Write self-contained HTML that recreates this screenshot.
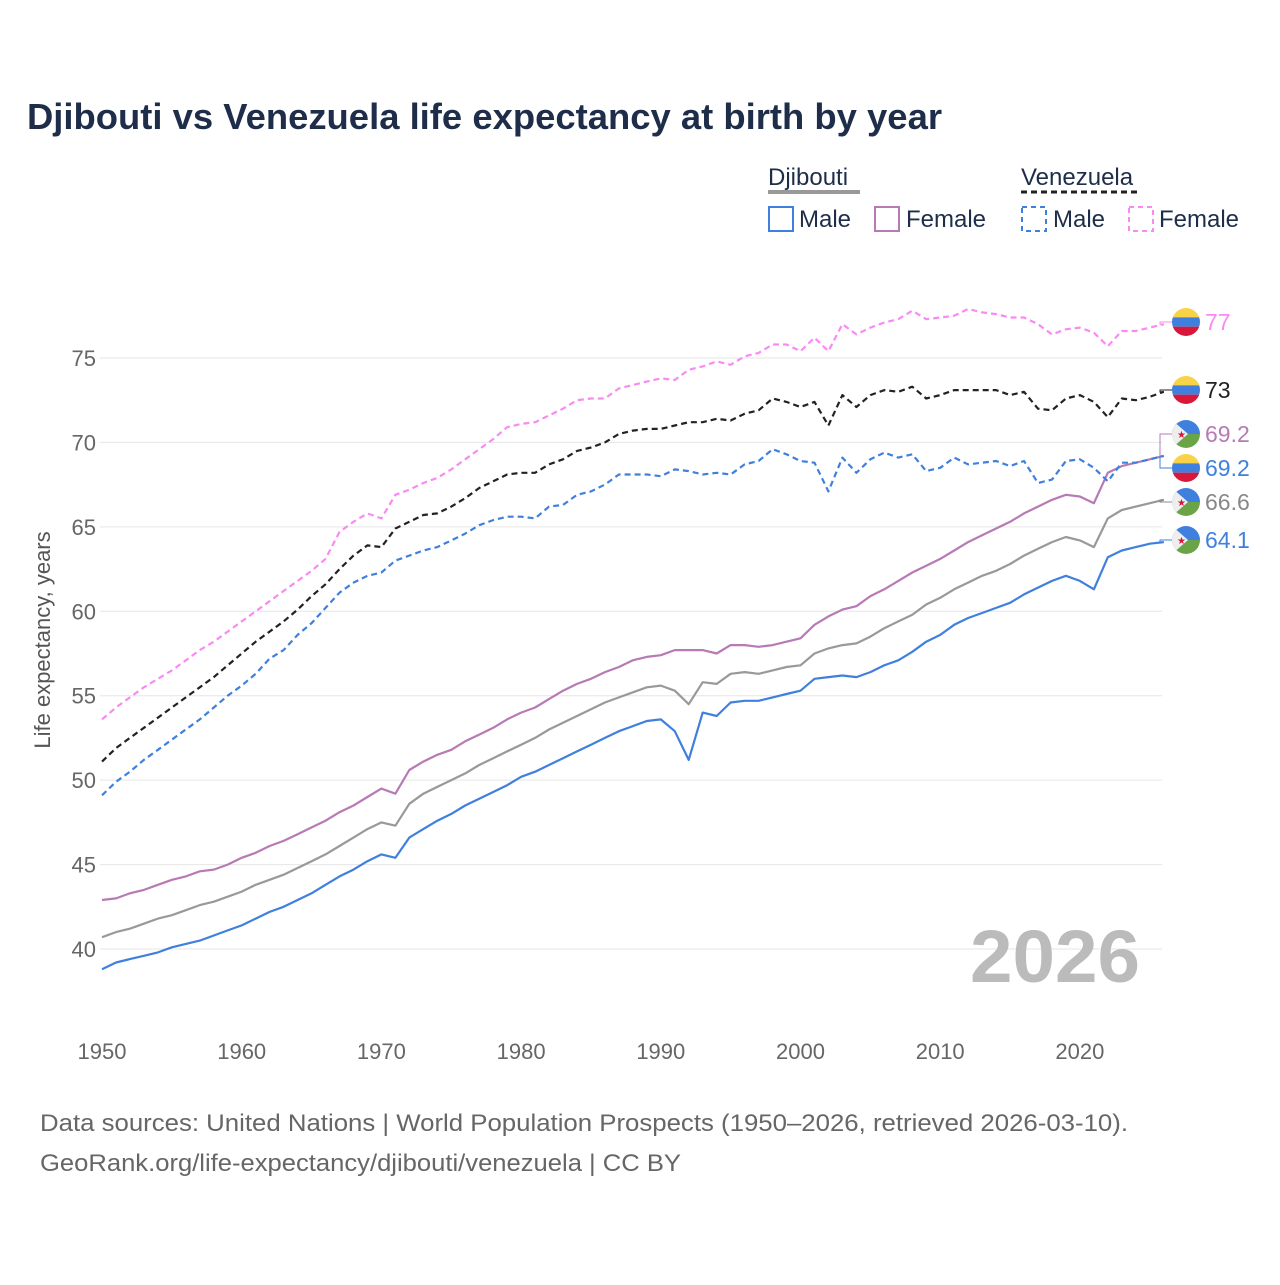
<!DOCTYPE html>
<html><head><meta charset="utf-8"><style>
body{margin:0;background:#fff;font-family:"Liberation Sans",sans-serif}
svg text{font-family:"Liberation Sans",sans-serif}
</style></head><body>
<svg id="chart" width="1280" height="1280" viewBox="0 0 1280 1280" xmlns="http://www.w3.org/2000/svg">
<rect width="1280" height="1280" fill="#fff"/>
<text x="27" y="129" font-size="36" font-weight="bold" fill="#1e2d4a" textLength="915" lengthAdjust="spacingAndGlyphs">Djibouti vs Venezuela life expectancy at birth by year</text>
<g fill="#1e2d4a" font-size="24">
<text x="768" y="185">Djibouti</text>
<line x1="768" y1="192" x2="860" y2="192" stroke="#999" stroke-width="4"/>
<text x="1021" y="185">Venezuela</text>
<line x1="1021" y1="192" x2="1139" y2="192" stroke="#222" stroke-width="3" stroke-dasharray="6,4"/>
<rect x="769" y="207" width="24" height="24" fill="none" stroke="#3f80de" stroke-width="2"/>
<text x="799" y="227">Male</text>
<rect x="875" y="207" width="24" height="24" fill="none" stroke="#b77ab5" stroke-width="2"/>
<text x="906" y="227">Female</text>
<rect x="1022" y="207" width="24" height="24" fill="none" stroke="#3f80de" stroke-width="2" stroke-dasharray="5,4"/>
<text x="1053" y="227">Male</text>
<rect x="1129" y="207" width="24" height="24" fill="none" stroke="#fa8af2" stroke-width="2" stroke-dasharray="5,4"/>
<text x="1159" y="227">Female</text>
</g>
<text transform="translate(50,640) rotate(-90)" text-anchor="middle" font-size="22" fill="#555">Life expectancy, years</text>
<g id="grid"></g><g id="lines"></g><g id="ends"></g>
<text x="970" y="982" font-size="74" font-weight="bold" fill="#bbb" textLength="170" lengthAdjust="spacingAndGlyphs">2026</text>
<text x="40" y="1131" font-size="24" fill="#666" textLength="1088" lengthAdjust="spacingAndGlyphs">Data sources: United Nations | World Population Prospects (1950–2026, retrieved 2026-03-10).</text>
<text x="40" y="1171" font-size="24" fill="#666" textLength="641" lengthAdjust="spacingAndGlyphs">GeoRank.org/life-expectancy/djibouti/venezuela | CC BY</text>
</svg>
<script>
const startYear = 1950;
const xTicks = [1950,1960,1970,1980,1990,2000,2010,2020];
const yTicks = [40,45,50,55,60,65,70,75];
const djMale = [38.8,39.2,39.4,39.6,39.8,40.1,40.3,40.5,40.8,41.1,41.4,41.8,42.2,42.5,42.9,43.3,43.8,44.3,44.7,45.2,45.6,45.4,46.6,47.1,47.6,48.0,48.5,48.9,49.3,49.7,50.2,50.5,50.9,51.3,51.7,52.1,52.5,52.9,53.2,53.5,53.6,52.9,51.2,54.0,53.8,54.6,54.7,54.7,54.9,55.1,55.3,56.0,56.1,56.2,56.1,56.4,56.8,57.1,57.6,58.2,58.6,59.2,59.6,59.9,60.2,60.5,61.0,61.4,61.8,62.1,61.8,61.3,63.2,63.6,63.8,64.0,64.1];
const djAll = [40.7,41.0,41.2,41.5,41.8,42.0,42.3,42.6,42.8,43.1,43.4,43.8,44.1,44.4,44.8,45.2,45.6,46.1,46.6,47.1,47.5,47.3,48.6,49.2,49.6,50.0,50.4,50.9,51.3,51.7,52.1,52.5,53.0,53.4,53.8,54.2,54.6,54.9,55.2,55.5,55.6,55.3,54.5,55.8,55.7,56.3,56.4,56.3,56.5,56.7,56.8,57.5,57.8,58.0,58.1,58.5,59.0,59.4,59.8,60.4,60.8,61.3,61.7,62.1,62.4,62.8,63.3,63.7,64.1,64.4,64.2,63.8,65.5,66.0,66.2,66.4,66.6];
const djFemale = [42.9,43.0,43.3,43.5,43.8,44.1,44.3,44.6,44.7,45.0,45.4,45.7,46.1,46.4,46.8,47.2,47.6,48.1,48.5,49.0,49.5,49.2,50.6,51.1,51.5,51.8,52.3,52.7,53.1,53.6,54.0,54.3,54.8,55.3,55.7,56.0,56.4,56.7,57.1,57.3,57.4,57.7,57.7,57.7,57.5,58.0,58.0,57.9,58.0,58.2,58.4,59.2,59.7,60.1,60.3,60.9,61.3,61.8,62.3,62.7,63.1,63.6,64.1,64.5,64.9,65.3,65.8,66.2,66.6,66.9,66.8,66.4,68.2,68.6,68.8,69.0,69.2];
const veMale = [49.1,49.9,50.5,51.2,51.8,52.4,53.0,53.6,54.3,55.0,55.6,56.3,57.2,57.7,58.6,59.3,60.2,61.1,61.7,62.1,62.3,63.0,63.3,63.6,63.8,64.2,64.6,65.1,65.4,65.6,65.6,65.5,66.2,66.3,66.9,67.1,67.5,68.1,68.1,68.1,68.0,68.4,68.3,68.1,68.2,68.1,68.7,68.9,69.6,69.3,68.9,68.8,67.1,69.1,68.2,69.0,69.4,69.1,69.3,68.3,68.5,69.1,68.7,68.8,68.9,68.6,68.9,67.6,67.8,68.9,69.0,68.5,67.7,68.8,68.8,69.0,69.2];
const veAll = [51.1,51.9,52.5,53.1,53.7,54.3,54.9,55.5,56.1,56.8,57.5,58.2,58.8,59.4,60.1,60.9,61.6,62.5,63.3,63.9,63.8,64.9,65.3,65.7,65.8,66.2,66.7,67.3,67.7,68.1,68.2,68.2,68.7,69.0,69.5,69.7,70.0,70.5,70.7,70.8,70.8,71.0,71.2,71.2,71.4,71.3,71.7,71.9,72.6,72.4,72.1,72.4,71.0,72.8,72.1,72.8,73.1,73.0,73.3,72.6,72.8,73.1,73.1,73.1,73.1,72.8,73.0,72.0,71.9,72.6,72.8,72.4,71.5,72.6,72.5,72.7,73.0];
const veFemale = [53.6,54.3,54.9,55.5,56.0,56.5,57.1,57.7,58.2,58.8,59.4,60.0,60.6,61.2,61.8,62.4,63.1,64.7,65.3,65.8,65.5,66.9,67.2,67.6,67.9,68.4,69.0,69.6,70.2,70.9,71.1,71.2,71.6,72.0,72.5,72.6,72.6,73.2,73.4,73.6,73.8,73.7,74.3,74.5,74.8,74.6,75.1,75.3,75.8,75.8,75.4,76.2,75.4,77.0,76.4,76.8,77.1,77.3,77.8,77.3,77.4,77.5,77.9,77.7,77.6,77.4,77.4,77.0,76.4,76.7,76.8,76.5,75.7,76.6,76.6,76.8,77.0];
const endLabels = ["77","73","69.2","69.2","66.6","64.1"];

const NS="http://www.w3.org/2000/svg";
const x = yr => 102 + (yr-1950)*13.97;
const y = v => 358 + (75-v)*16.886;
function mk(tag, attrs, parent){const e=document.createElementNS(NS,tag);for(const k in attrs)e.setAttribute(k,attrs[k]);parent.appendChild(e);return e;}
const grid=document.getElementById('grid'), lines=document.getElementById('lines'), ends=document.getElementById('ends');
yTicks.forEach(v=>{
  const l=mk('line',{x1:100,x2:1162,y1:y(v),y2:y(v),stroke:'#e6e6e6','stroke-width':1},grid);
  
  
  const t=mk('text',{x:96,y:y(v)+8,'text-anchor':'end','font-size':22,fill:'#666'},grid);
  
  
  t.textContent=v;
});
xTicks.forEach(yr=>{
  const t=mk('text',{x:x(yr),y:1059,'text-anchor':'middle','font-size':22,fill:'#666'},grid);
  
  
  t.textContent=yr;
});
const series=[
  {d:djMale,c:'#3f80de',dash:null,n:'djibouti-male-line'},
  {d:djAll,c:'#999',dash:null,n:'djibouti-total-line'},
  {d:djFemale,c:'#b77ab5',dash:null,n:'djibouti-female-line'},
  {d:veMale,c:'#3f80de',dash:'6,4',n:'venezuela-male-line'},
  {d:veAll,c:'#222',dash:'6,4',n:'venezuela-total-line'},
  {d:veFemale,c:'#fa8af2',dash:'6,4',n:'venezuela-female-line'}
];
series.forEach(s=>{
  const pts=s.d.map((v,i)=>x(startYear+i).toFixed(1)+','+y(v).toFixed(1)).join(' ');
  const a={points:pts,fill:'none',stroke:s.c,'stroke-width':2.2,'stroke-linejoin':'round'};
  if(s.dash)a['stroke-dasharray']=s.dash;
  const p=mk('polyline',a,lines);
  
  
});
const lab=[
  {yy:322,c:'#fa8af2',f:'ve',t:endLabels[0],last:veFemale},
  {yy:390,c:'#222',f:'ve',t:endLabels[1],last:veAll},
  {yy:434,c:'#b77ab5',f:'dj',t:endLabels[2],last:djFemale},
  {yy:468,c:'#3f80de',f:'ve',t:endLabels[3],last:veMale},
  {yy:502,c:'#888',f:'dj',t:endLabels[4],last:djAll},
  {yy:540,c:'#3f80de',f:'dj',t:endLabels[5],last:djMale}
];
let cid=0;
lab.forEach(L=>{
  const ly=y(L.last[L.last.length-1]);
  const g=mk('g',{},ends);
  
  
  mk('polyline',{points:`1164,${ly} 1160,${ly} 1160,${L.yy} 1172,${L.yy}`,fill:'none',stroke:L.c,'stroke-width':1},g);
  const cx=1186, r=14; cid++;
  mk('clipPath',{id:'c'+cid},g).appendChild(document.createElementNS(NS,'circle'));
  const cc=g.lastChild.firstChild; cc.setAttribute('cx',cx);cc.setAttribute('cy',L.yy);cc.setAttribute('r',r);
  const fg=mk('g',{'clip-path':`url(#c${cid})`},g);
  
  
  if(L.f==='ve'){
    mk('rect',{x:cx-r,y:L.yy-r,width:2*r,height:r*2/3,fill:'#f8d347'},fg);
    mk('rect',{x:cx-r,y:L.yy-r/3,width:2*r,height:r*2/3,fill:'#3f80de'},fg);
    mk('rect',{x:cx-r,y:L.yy+r/3,width:2*r,height:r*2/3,fill:'#d9173a'},fg);
  } else {
    mk('rect',{x:cx-r,y:L.yy-r,width:2*r,height:r,fill:'#3f80de'},fg);
    mk('rect',{x:cx-r,y:L.yy,width:2*r,height:r,fill:'#6aa446'},fg);
    mk('polygon',{points:`${cx-r},${L.yy-r} ${cx+2},${L.yy} ${cx-r},${L.yy+r}`,fill:'#eee'},fg);
    mk('text',{x:cx-9,y:L.yy+4,'font-size':10,fill:'#d9173a'},fg).textContent='★';
  }
  const t=mk('text',{x:1205,y:L.yy+8,'font-size':23,fill:L.c},g);
  t.textContent=L.t;
});
</script>
</body></html>
